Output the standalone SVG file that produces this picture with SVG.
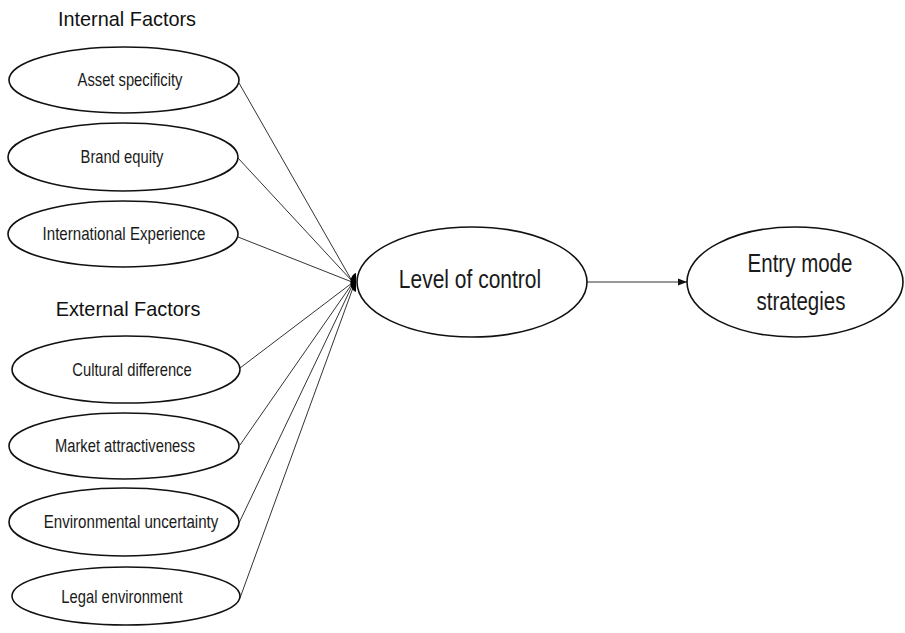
<svg xmlns="http://www.w3.org/2000/svg" width="905" height="633" viewBox="0 0 905 633">
<style>
  .node ellipse { fill: #fff; stroke: #111; stroke-width: 1.6; }
  .lbl { font-family: "Liberation Sans", Arial, sans-serif; fill: #1a1a1a; text-anchor: middle; }
  .s { font-size: 18px; }
  .b { font-size: 25px; }
  .h { font-family: "Liberation Sans", Arial, sans-serif; font-size: 20.5px; fill: #111; text-anchor: middle; }
  .conn line { stroke: #333; stroke-width: 1; }
</style>
<defs>
  <marker id="arr" markerWidth="10" markerHeight="10" refX="9" refY="5" orient="auto" markerUnits="userSpaceOnUse">
    <path d="M0,1.5 L9,5 L0,8.5 Z" fill="#111"/>
  </marker>
</defs>
<rect width="905" height="633" fill="#fff"/>
<text class="h" transform="translate(127,26) scale(0.97,1)">Internal Factors</text>
<text class="h" transform="translate(128,316) scale(0.97,1)">External Factors</text>
<g class="conn">
  <line x1="239" y1="83" x2="352" y2="281"/>
  <line x1="238" y1="158" x2="352" y2="281"/>
  <line x1="238" y1="237" x2="352" y2="282"/>
  <line x1="240" y1="368" x2="352" y2="283"/>
  <line x1="240" y1="445" x2="352" y2="284"/>
  <line x1="239" y1="523" x2="353" y2="284"/>
  <line x1="240" y1="598" x2="354" y2="285"/>
  <path d="M356,273 C349,275 348,289 356,292 Z" fill="#000"/>
  <line x1="587" y1="282" x2="687" y2="282" stroke="#111" marker-end="url(#arr)"/>
</g>
<g id="asset" class="node"><ellipse cx="124" cy="80" rx="115" ry="33"/><text class="lbl s" transform="translate(130,86) scale(0.82,1)">Asset specificity</text></g>
<g id="brand" class="node"><ellipse cx="123" cy="157" rx="115" ry="34"/><text class="lbl s" transform="translate(122,163) scale(0.82,1)">Brand equity</text></g>
<g id="intl" class="node"><ellipse cx="123" cy="234" rx="115" ry="33"/><text class="lbl s" transform="translate(124,240) scale(0.84,1)">International Experience</text></g>
<g id="cultural" class="node"><ellipse cx="126" cy="369.5" rx="114" ry="33.5"/><text class="lbl s" transform="translate(132,376) scale(0.82,1)">Cultural difference</text></g>
<g id="market" class="node"><ellipse cx="124" cy="446" rx="115" ry="33"/><text class="lbl s" transform="translate(125,452) scale(0.82,1)">Market attractiveness</text></g>
<g id="env" class="node"><ellipse cx="124" cy="522" rx="115" ry="34"/><text class="lbl s" transform="translate(131,528) scale(0.84,1)">Environmental uncertainty</text></g>
<g id="legal" class="node"><ellipse cx="126" cy="596" rx="114" ry="29"/><text class="lbl s" transform="translate(122,603) scale(0.82,1)">Legal environment</text></g>
<g id="control" class="node"><ellipse cx="472" cy="282" rx="115" ry="55"/><text class="lbl b" transform="translate(470,288) scale(0.84,1)">Level of control</text></g>
<g id="entry" class="node"><ellipse cx="795" cy="282" rx="108" ry="55"/><text class="lbl b" transform="translate(800,272) scale(0.82,1)">Entry mode</text><text class="lbl b" transform="translate(801,310) scale(0.82,1)">strategies</text></g>
</svg>
